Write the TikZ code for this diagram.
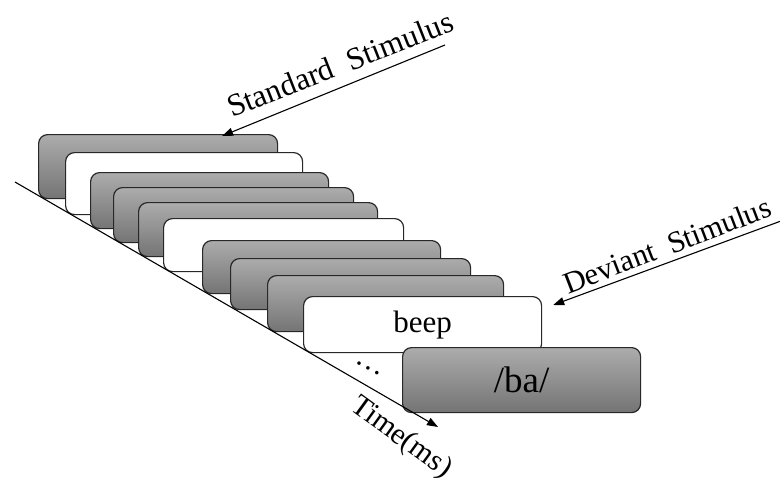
\documentclass[tikz,border=0pt]{standalone}
\usepackage{fontspec}
\setmainfont{Liberation Serif}
\newfontfamily\timesfont{Liberation Serif}
\usetikzlibrary{arrows.meta}
\definecolor{cardtop}{RGB}{172,172,172}
\definecolor{cardbot}{RGB}{116,116,116}
\definecolor{edge}{RGB}{40,40,40}
\tikzset{
  card/.style={draw=edge, line width=1.2pt, rounded corners=9pt, anchor=north west, inner sep=0pt},
  graycard/.style={card, top color=cardtop, bottom color=cardbot},
  whitecard/.style={card, fill=white},
  arr/.style={draw=black, line width=1.1pt, -{Triangle[length=11pt,width=8pt]}},
  lbl/.style={font=\timesfont\fontsize{30}{33}\selectfont, inner sep=0pt}
}
\begin{document}
\begin{tikzpicture}[x=1pt,y=-1pt]
\useasboundingbox (0,0) rectangle (780,485);
% cards: left, top, width, height
\node[graycard,  minimum width=239pt, minimum height=64pt] (c1)  at (38,134)  {};
\node[whitecard, minimum width=237pt, minimum height=62pt] (c2)  at (65,152)  {};
\node[graycard,  minimum width=238pt, minimum height=56pt] (c3)  at (90,172)  {};
\node[graycard,  minimum width=240pt, minimum height=55pt] (c4)  at (113,187) {};
\node[graycard,  minimum width=239pt, minimum height=54pt] (c5)  at (138,202) {};
\node[whitecard, minimum width=240pt, minimum height=53pt] (c6)  at (163,218) {};
\node[graycard,  minimum width=238pt, minimum height=53pt] (c7)  at (202,240) {};
\node[graycard,  minimum width=240pt, minimum height=51pt] (c8)  at (230,258) {};
\node[graycard,  minimum width=236pt, minimum height=56pt] (c9)  at (267,275) {};
\node[whitecard, minimum width=238pt, minimum height=56pt] (c10) at (303,296) {};
\node[graycard,  minimum width=238pt, minimum height=65pt] (c11) at (402,347) {};
\node[font=\timesfont\fontsize{31}{34}\selectfont] (beep) at (c10.center) {beep};
\node[font=\timesfont\fontsize{37}{40}\selectfont] (ba) at (c11.center) {/ba/};
% time axis
\coordinate (t0) at (15,182);
\coordinate (t1) at (438,427);
\draw[arr] (t0) -- (t1);
\node[lbl, rotate=-28] (dots) at (368,368) {\dots};
\node[lbl, rotate=-36] (time) at (401,438) {Time(ms)};
% stimulus arrows
\coordinate (stdtail) at (445,45);
\draw[arr] (stdtail) -- ([xshift=64pt,yshift=-2pt]c1.north);
\node[lbl, font=\timesfont\fontsize{31.5}{34}\selectfont, rotate=21.5] (stdlbl) at (340,64) {Standard\hspace{8pt} Stimulus};
\coordinate (devtail) at (781,221);
\draw[arr] (devtail) -- ([shift={(11,9)}]c10.north east);
\node[lbl, font=\timesfont\fontsize{30.5}{34}\selectfont, rotate=21] (devlbl) at (667,245) {Deviant\hspace{7pt} Stimulus};
\end{tikzpicture}
\end{document}
